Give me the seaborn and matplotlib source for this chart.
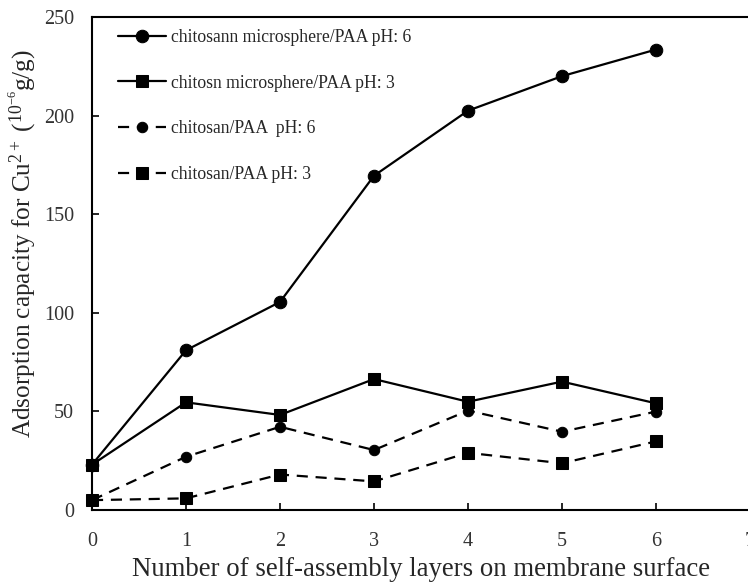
import matplotlib
matplotlib.use("Agg")
import matplotlib.pyplot as plt
import seaborn as sns
import pandas as pd

sns.set_theme(style="ticks")
plt.rcParams["font.family"] = ["Liberation Serif", "DejaVu Serif"]
plt.rcParams["mathtext.fontset"] = "custom"
plt.rcParams["mathtext.rm"] = "Liberation Serif"
plt.rcParams["mathtext.it"] = "Liberation Serif:italic"

layers = [0, 1, 2, 3, 4, 5, 6]
micro_ph6 = [23, 81, 105.5, 169.5, 202.5, 220, 233.5]
micro_ph3 = [23, 54.6, 48.2, 66.4, 54.9, 65.1, 54.1]
plain_ph6 = [5, 27, 42.2, 30.4, 50.4, 39.7, 49.9]
plain_ph3 = [5, 5.9, 18, 14.5, 29, 23.7, 34.8]

labels = [
    "chitosann microsphere/PAA pH: 6",
    "chitosn microsphere/PAA pH: 3",
    "chitosan/PAA  pH: 6",
    "chitosan/PAA pH: 3",
]
series = [micro_ph6, micro_ph3, plain_ph6, plain_ph3]
styles = [
    dict(marker="o", markersize=9, linestyle="-"),
    dict(marker="s", markersize=8, linestyle="-"),
    dict(marker="o", markersize=7.5, linestyle=(0, (5, 3.5))),
    dict(marker="s", markersize=8, linestyle=(0, (5, 3.5))),
]

fig = plt.figure(figsize=(7.48, 5.85), dpi=100)
ax = fig.add_axes([92 / 748, 75 / 585, 658 / 748, 493 / 585])

for vals, lab, st in zip(series, labels, styles):
    df = pd.DataFrame({"x": layers, "y": vals})
    sns.lineplot(data=df, x="x", y="y", ax=ax, color="black", linewidth=1.6,
                 marker=st["marker"], markersize=st["markersize"],
                 markeredgecolor="black", markerfacecolor="black",
                 linestyle=st["linestyle"], label=lab, clip_on=False)

ax.set_xlim(0, 7)
ax.set_ylim(0, 250)
ax.set_xticks(range(0, 8))
ax.set_yticks(range(0, 251, 50))
ax.tick_params(direction="in", length=5, width=1.2, colors="black",
               labelsize=14.5, labelcolor="#333333", pad=13)
ax.tick_params(axis="x", pad=16)
for sp in ax.spines.values():
    sp.set_linewidth(1.5)
    sp.set_color("black")

ax.set_xlabel("Number of self-assembly layers on membrane surface",
              fontsize=19.3, labelpad=4)
ax.set_ylabel(r"Adsorption capacity for Cu$^{\mathregular{2+}}$ ($\mathregular{^{10^{-6}}g/g}$)",
              fontsize=18.2)
ax.yaxis.set_label_coords(-0.082, 0.54)

leg = ax.legend(loc="upper left", bbox_to_anchor=(111 / 748, 1 - 22 / 585),
                bbox_transform=fig.transFigure, frameon=False, fontsize=12.7,
                handlelength=2.7, handletextpad=0.3, labelspacing=1.62,
                borderaxespad=0)

fig.savefig("out.png", dpi=100)
